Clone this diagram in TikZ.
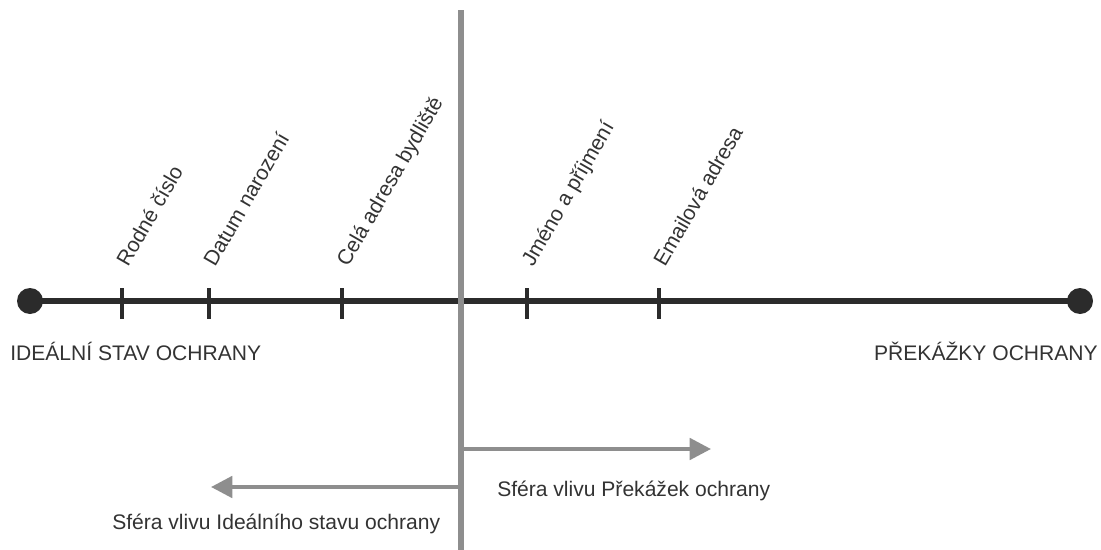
\documentclass[tikz,border=0pt]{standalone}
\usepackage{fontspec}
\setmainfont{Liberation Sans}
\usetikzlibrary{arrows.meta}
\definecolor{axisdark}{HTML}{2B2B2B}
\definecolor{divgray}{HTML}{8E8E8E}
\definecolor{txt}{HTML}{333333}
\begin{document}
\begin{tikzpicture}[x=0.75pt,y=-0.75pt,
  endpoint/.style={circle,fill=axisdark,minimum size=26*0.75pt,inner sep=0pt},
  axisline/.style={draw=axisdark,line width=3.8pt},
  tickmark/.style={draw=axisdark,line width=2.4pt},
  divider/.style={draw=divgray,line width=3.8pt},
  sphere/.style={draw=divgray,line width=3pt,-{Triangle[length=16pt,width=16pt]}},
  lbl/.style={text=txt,font=\fontsize{15.8}{18}\selectfont,inner sep=0pt},
  itemlbl/.style={lbl,rotate=60,anchor=base west}]
\useasboundingbox (0,0) rectangle (1101,550);

% axis with its two end points
\node[endpoint] (ideal) at (30,301) {};
\node[endpoint] (obst) at (1080,301) {};
\draw[axisline] (ideal.center) -- (obst.center);

% tick marks with their rotated labels
\foreach \name/\x/\t in {rc/122/Rodné číslo, dn/209/Datum narození, ca/342/Celá adresa bydliště, jp/527/Jméno a příjmení, ea/659/Emailová adresa}{
  \coordinate (\name-top) at (\x,288);
  \coordinate (\name-bot) at (\x,319);
  \draw[tickmark] (\name-top) -- (\name-bot);
  \node[itemlbl] (\name) at (\x+6,268) {\t};
}

% end labels
\node[lbl,anchor=west] (ideallbl) at (10,351) {IDEÁLNÍ STAV OCHRANY};
\node[lbl,anchor=east] (obstlbl) at (1098,351) {PŘEKÁŽKY OCHRANY};

% dividing line
\coordinate (divtop) at (461,10);
\coordinate (divbot) at (461,550);
\draw[divider] (divtop) -- (divbot);

% spheres of influence
\coordinate (rstart) at (461,449);
\coordinate (rend) at (711,449);
\coordinate (lstart) at (461,487);
\coordinate (lend) at (211,487);
\draw[sphere] (rstart) -- (rend);
\draw[sphere] (lstart) -- (lend);
\node[lbl,anchor=west] (rlbl) at (497,491) {Sféra vlivu Překážek ochrany};
\node[lbl,anchor=west] (llbl) at (112,524) {Sféra vlivu Ideálního stavu ochrany};
\end{tikzpicture}
\end{document}
